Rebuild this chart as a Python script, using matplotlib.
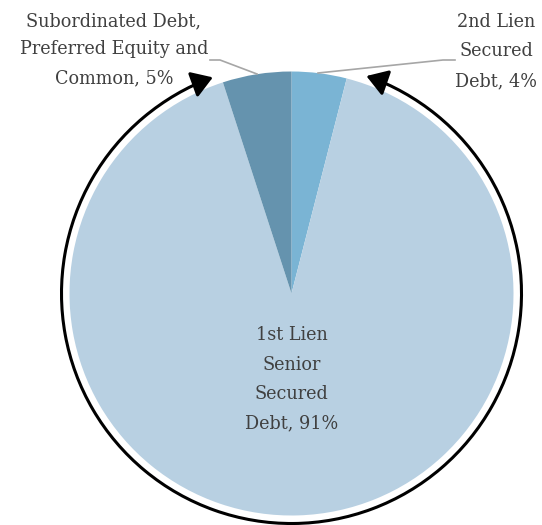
import matplotlib.pyplot as plt
from matplotlib.patches import FancyArrowPatch
from matplotlib.path import Path
from matplotlib.transforms import Affine2D

# slices, clockwise from 12 o'clock
labels = ["2nd Lien\nSecured\nDebt, 4%",
          "1st Lien\nSenior\nSecured\nDebt, 91%",
          "Subordinated Debt,\nPreferred Equity and\nCommon, 5%"]
shares = [4, 91, 5]
colors = ["#7ab4d4", "#b8d0e2", "#6593ae"]

W, H = 542, 525
fig = plt.figure(figsize=(W / 100, H / 100), dpi=100)
ax = fig.add_axes([0, 0, 1, 1])

cx, cy, r = 291.5, H - 293.5, 222
ax.pie(shares, colors=colors, startangle=90, counterclock=False,
       center=(cx, cy), radius=r, frame=True,
       wedgeprops=dict(linewidth=0))
ax.set_xlim(0, W)
ax.set_ylim(0, H)
ax.axis("off")

txt = dict(family="DejaVu Serif", fontsize=12.7, color="#404040",
           ha="center", va="center")

# 1st lien label inside
ax.text(cx, H - 379.5, labels[1], linespacing=1.82, **txt)

# outside labels with grey leader lines
ax.text(114, H - 49.5, labels[2], linespacing=1.76, **txt)
ax.plot([210, 220, 257], [H - 60, H - 60, H - 74], color="#a6a6a6", lw=1.2)
ax.text(496, H - 51.5, labels[0], linespacing=1.82, **txt)
ax.plot([318, 443, 455], [H - 73, H - 60, H - 60], color="#a6a6a6", lw=1.2)

# big arc around the pie with arrowheads at both ends
arc = Path.arc(110, 431)
arc = Affine2D().scale(230).translate(cx, cy).transform_path(arc)
arrow = FancyArrowPatch(path=arc, arrowstyle="<|-|>,head_length=0.7,head_width=0.45",
                        mutation_scale=18, color="black", lw=2.2)
ax.add_patch(arrow)

fig.savefig("out.png", dpi=100)
